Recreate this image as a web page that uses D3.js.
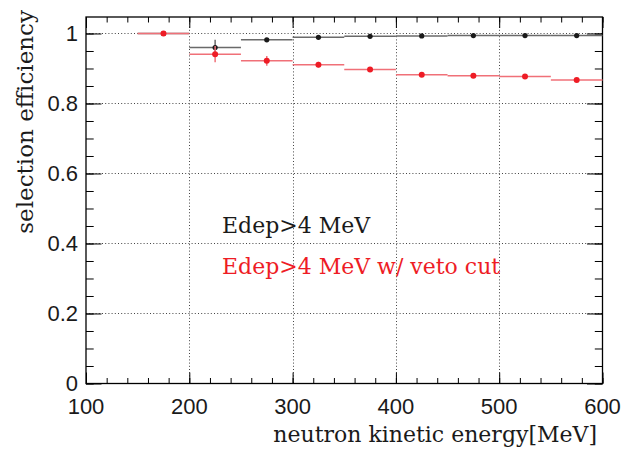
<!DOCTYPE html>
<html>
<head>
<meta charset="utf-8">
<script src="https://cdn.jsdelivr.net/npm/d3@7"></script>
<style>
  html, body { margin: 0; padding: 0; background: #fff; }
  svg { display: block; }
</style>
</head>
<body>
<svg id="chart" width="622" height="449"></svg>
<script>
// ---- data ----
const binLow = [150, 200, 250, 300, 350, 400, 450, 500, 550];
const binHigh = [200, 250, 300, 350, 400, 450, 500, 550, 600];
const binCenter = [175, 225, 275, 325, 375, 425, 475, 525, 575];
const effEdep = [1.0, 0.960, 0.982, 0.989, 0.992, 0.993, 0.994, 0.994, 0.994];
const errEdep = [0.0, 0.022, 0.005, 0.003, 0.003, 0.002, 0.002, 0.002, 0.002];
const effVeto = [1.0, 0.941, 0.922, 0.911, 0.897, 0.882, 0.879, 0.877, 0.867];
const errVeto = [0.0, 0.023, 0.014, 0.008, 0.005, 0.004, 0.004, 0.004, 0.004];
const xTickLabels = ["100", "200", "300", "400", "500", "600"];
const yTickLabels = ["0", "0.2", "0.4", "0.6", "0.8", "1"];
const legendLabels = ["Edep>4 MeV", "Edep>4 MeV w/ veto cut"];
const seriesColors = ["#1a1a1a", "#ee1c25"];
const barColors = ["#6a6a6a", "#f07078"];

// ---- layout ----
const L = 86, R = 602.5, T = 17, B = 383.5;
const svg = d3.select("#chart");
const x = d3.scaleLinear().domain([100, 600]).range([L, R]);
const y = d3.scaleLinear().domain([0, 1.0471]).range([B, T]);

const xMajor = xTickLabels.map(Number);
const yMajor = yTickLabels.map(Number);
const xMinor = d3.range(100, 600.1, 20);
const yMinor = d3.range(0, 1.0471, 0.05);

// grid
const grid = svg.append("g").attr("stroke", "#444").attr("stroke-width", 1)
  .attr("stroke-dasharray", "1,2.2");
grid.selectAll(".gx").data(xMajor.filter(v => v > 100 && v < 600)).enter().append("line")
  .attr("x1", d => Math.round(x(d)) + 0.5).attr("x2", d => Math.round(x(d)) + 0.5)
  .attr("y1", T).attr("y2", B);
grid.selectAll(".gy").data(yMajor.filter(v => v > 0)).enter().append("line")
  .attr("y1", d => Math.round(y(d)) + 0.5).attr("y2", d => Math.round(y(d)) + 0.5)
  .attr("x1", L).attr("x2", R);

// axes (ticks inside)
function styleAxis(g) {
  g.select(".domain").remove();
  g.selectAll(".tick line").attr("stroke", "#000").attr("stroke-width", 1);
}
svg.append("g").attr("transform", `translate(0,${B})`)
  .call(d3.axisBottom(x).tickValues(xMinor).tickSize(-5.5).tickFormat(""))
  .call(styleAxis);
svg.append("g").attr("transform", `translate(0,${B})`)
  .call(d3.axisBottom(x).tickValues(xMajor).tickSize(-11).tickFormat(""))
  .call(styleAxis);
svg.append("g").attr("transform", `translate(0,${T})`)
  .call(d3.axisTop(x).tickValues(xMinor).tickSize(-5.5).tickFormat(""))
  .call(styleAxis);
svg.append("g").attr("transform", `translate(0,${T})`)
  .call(d3.axisTop(x).tickValues(xMajor).tickSize(-11).tickFormat(""))
  .call(styleAxis);
svg.append("g").attr("transform", `translate(${L},0)`)
  .call(d3.axisLeft(y).tickValues(yMinor).tickSize(-7.7).tickFormat(""))
  .call(styleAxis);
svg.append("g").attr("transform", `translate(${L},0)`)
  .call(d3.axisLeft(y).tickValues(yMajor).tickSize(-15.5).tickFormat(""))
  .call(styleAxis);
svg.append("g").attr("transform", `translate(${R},0)`)
  .call(d3.axisRight(y).tickValues(yMinor).tickSize(-7.7).tickFormat(""))
  .call(styleAxis);
svg.append("g").attr("transform", `translate(${R},0)`)
  .call(d3.axisRight(y).tickValues(yMajor).tickSize(-15.5).tickFormat(""))
  .call(styleAxis);

// frame
svg.append("rect").attr("x", L).attr("y", T).attr("width", R - L).attr("height", B - T)
  .attr("fill", "none").attr("stroke", "#000").attr("stroke-width", 1.3);

// tick labels
const tickFont = "'Liberation Sans', Arial, Helvetica, sans-serif";
svg.append("g").selectAll("text").data(xTickLabels).enter().append("text")
  .attr("x", d => x(+d)).attr("y", 414)
  .attr("text-anchor", "middle").attr("font-family", tickFont).attr("font-size", 22)
  .attr("fill", "#1a1a1a").text(d => d);
svg.append("g").selectAll("text").data(yTickLabels).enter().append("text")
  .attr("x", 78).attr("y", d => y(+d) + 7.5)
  .attr("text-anchor", "end").attr("font-family", tickFont).attr("font-size", 22)
  .attr("fill", "#1a1a1a").text(d => d);

// axis titles
const serif = "'DejaVu Serif', serif";
svg.append("text").attr("x", 597).attr("y", 442).attr("text-anchor", "end")
  .attr("font-family", serif).attr("font-size", 22).attr("fill", "#1a1a1a")
  .text("neutron kinetic energy[MeV]");
svg.append("text").attr("transform", "translate(33,10) rotate(-90)")
  .attr("text-anchor", "end").attr("font-family", serif).attr("font-size", 23)
  .attr("fill", "#1a1a1a").text("selection efficiency");

// data series
const series = [
  { eff: effEdep, err: errEdep, color: seriesColors[0], bar: barColors[0], r: 2.6 },
  { eff: effVeto, err: errVeto, color: seriesColors[1], bar: barColors[1], r: 3 }
];
series.forEach(s => {
  const g = svg.append("g");
  const idx = d3.range(binCenter.length);
  g.selectAll(".h").data(idx).enter().append("line")
    .attr("x1", i => x(binLow[i])).attr("x2", i => x(binHigh[i]))
    .attr("y1", i => y(s.eff[i])).attr("y2", i => y(s.eff[i]))
    .attr("stroke", s.bar).attr("stroke-width", 1.5);
  g.selectAll(".v").data(idx.filter(i => s.err[i] > 0)).enter().append("line")
    .attr("x1", i => x(binCenter[i])).attr("x2", i => x(binCenter[i]))
    .attr("y1", i => y(s.eff[i] - s.err[i])).attr("y2", i => y(s.eff[i] + s.err[i]))
    .attr("stroke", s.bar).attr("stroke-width", 1.5);
  g.selectAll("circle").data(idx).enter().append("circle")
    .attr("cx", i => x(binCenter[i])).attr("cy", i => y(s.eff[i]))
    .attr("r", s.r).attr("fill", s.color);
});

// legend text
svg.append("text").attr("x", 222).attr("y", 233).attr("font-family", serif)
  .attr("font-size", 22).attr("fill", seriesColors[0]).text(legendLabels[0]);
svg.append("text").attr("x", 222).attr("y", 274).attr("font-family", serif)
  .attr("font-size", 22).attr("fill", seriesColors[1]).text(legendLabels[1]);
</script>
</body>
</html>
